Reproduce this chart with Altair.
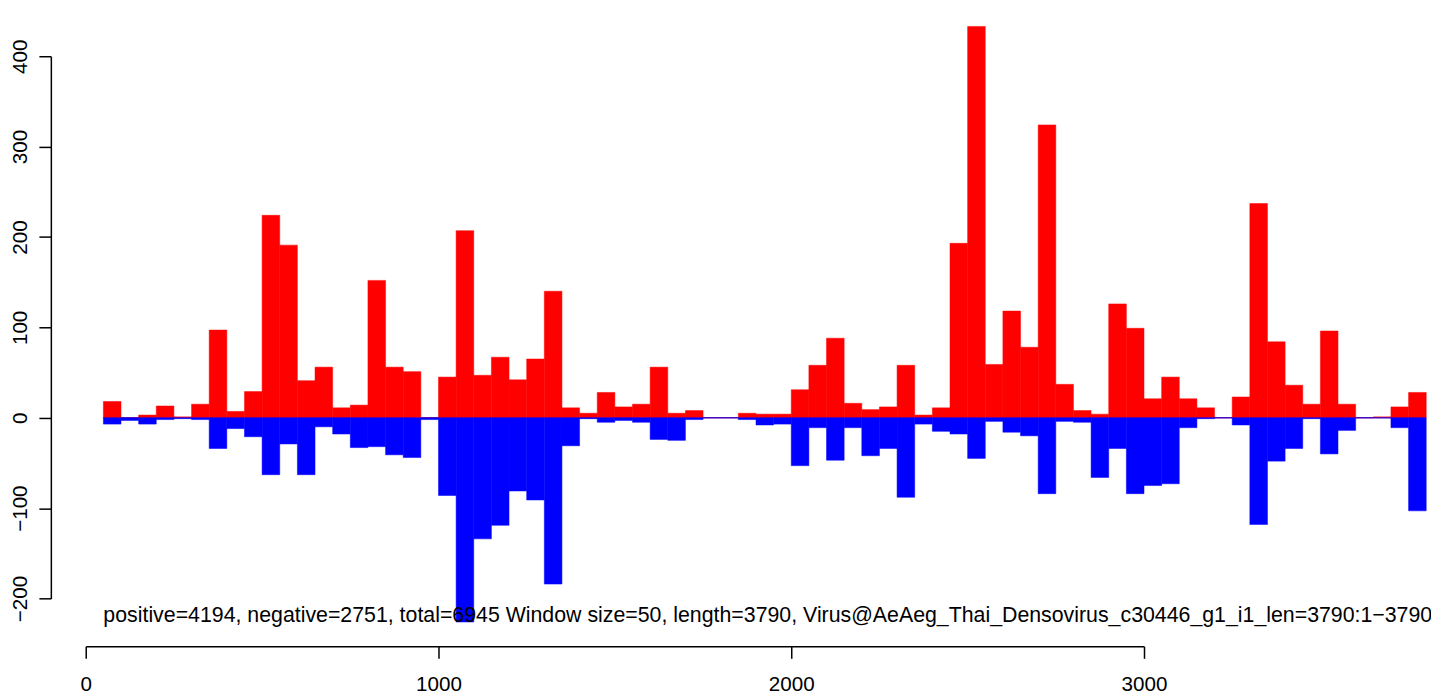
import altair as alt
import pandas as pd

# ---- data ----
window_size = 50
window_start = list(range(50, 3800, window_size))  # 75 windows: 50 .. 3750

positive = [18, 0, 3, 13, 1, 15, 97, 7, 29, 224,
            191, 41, 56, 11, 14, 152, 56, 51, 0, 45,
            207, 47, 67, 42, 65, 140, 11, 5, 28, 12,
            15, 56, 5, 8, 0, 0, 5, 4, 4, 31,
            58, 88, 16, 9, 12, 58, 3, 11, 193, 433,
            59, 118, 78, 324, 37, 8, 4, 126, 99, 21,
            45, 21, 11, 0, 23, 237, 84, 36, 15, 96,
            15, 0, 1, 12, 28]

negative = [7, 3, 7, 2, 1, 2, 34, 12, 21, 63,
            29, 63, 10, 18, 33, 32, 41, 44, 2, 86,
            226, 134, 119, 81, 91, 184, 31, 1, 5, 3,
            5, 24, 25, 2, 0, 0, 2, 8, 7, 53,
            11, 47, 11, 42, 34, 88, 7, 15, 18, 45,
            4, 16, 20, 84, 4, 5, 66, 34, 84, 75,
            73, 11, 1, 0, 8, 118, 48, 34, 1, 40,
            14, 0, 0, 11, 103]

x_ticks = [0, 1000, 2000, 3000]
y_ticks = [-200, -100, 0, 100, 200, 300, 400]

annotation = ("positive=4194, negative=2751, total=6945 Window size=50, length=3790, "
              "Virus@AeAeg_Thai_Densovirus_c30446_g1_i1_len=3790:1\u22123790")
annotation_x = 50
annotation_y = -226

# ---- tables ----
df = pd.DataFrame({
    "start": window_start,
    "end": [s + window_size for s in window_start],
    "pos": positive,
    "neg": [-v for v in negative],
})
line_df = pd.DataFrame({"x": [window_start[0]], "x2": [window_start[-1] + window_size], "y": [0]})
text_df = pd.DataFrame({"x": [annotation_x], "y": [annotation_y], "t": [annotation]})

FONT = "Liberation Sans"
x_scale = alt.Scale(domain=[0, 3000], nice=False, zero=False)
y_scale = alt.Scale(domain=[-200, 400], nice=False, zero=False)

x_axis = alt.Axis(values=x_ticks, format="d", title=None, grid=False, offset=48,
                  tickSize=12, tickWidth=1.5, domainWidth=1.5,
                  domainColor="black", tickColor="black", labelColor="black",
                  labelFont=FONT, labelFontSize=20.7, labelPadding=16, labelFlush=False)
y_axis = alt.Axis(values=y_ticks, format="d", title=None, grid=False, offset=35,
                  tickSize=12, tickWidth=1.5, domainWidth=1.5,
                  domainColor="black", tickColor="black", labelColor="black",
                  labelFont=FONT, labelFontSize=20.7, labelAngle=270,
                  labelAlign="center", labelBaseline="alphabetic", labelPadding=12,
                  labelFlush=False)

zero_line = alt.Chart(line_df).mark_rule(color="blue", strokeWidth=1).encode(
    x=alt.X("x:Q", scale=x_scale, axis=x_axis), x2="x2:Q",
    y=alt.Y("y:Q", scale=y_scale, axis=y_axis),
)

red = alt.Chart(df).mark_rect(fill="#FF0000", stroke="#FF0000", strokeWidth=0.5).encode(
    x=alt.X("start:Q", scale=x_scale, axis=x_axis), x2="end:Q",
    y=alt.Y("pos:Q", scale=y_scale, axis=y_axis), y2=alt.datum(0),
)
blue = alt.Chart(df).mark_rect(fill="#0000FF", stroke="#0000FF", strokeWidth=0.5).encode(
    x=alt.X("start:Q", scale=x_scale, axis=x_axis), x2="end:Q",
    y=alt.Y("neg:Q", scale=y_scale, axis=y_axis), y2=alt.datum(0),
)

label = alt.Chart(text_df).mark_text(align="left", baseline="alphabetic", font=FONT,
                                     fontSize=21.4, color="#000000").encode(
    x=alt.X("x:Q", scale=x_scale), y=alt.Y("y:Q", scale=y_scale), text="t:N",
)

chart = alt.layer(zero_line, red, blue, label).properties(
    width=1062, height=544.2,
    padding={"left": 78, "top": 47.2, "right": 288, "bottom": 94},
    autosize=alt.AutoSizeParams(type="none"),
).configure(
    background="white",
    view=alt.ViewConfig(strokeWidth=0, stroke="transparent"),
)

chart.save("out.html", embed_options={"renderer": "svg", "actions": False})
